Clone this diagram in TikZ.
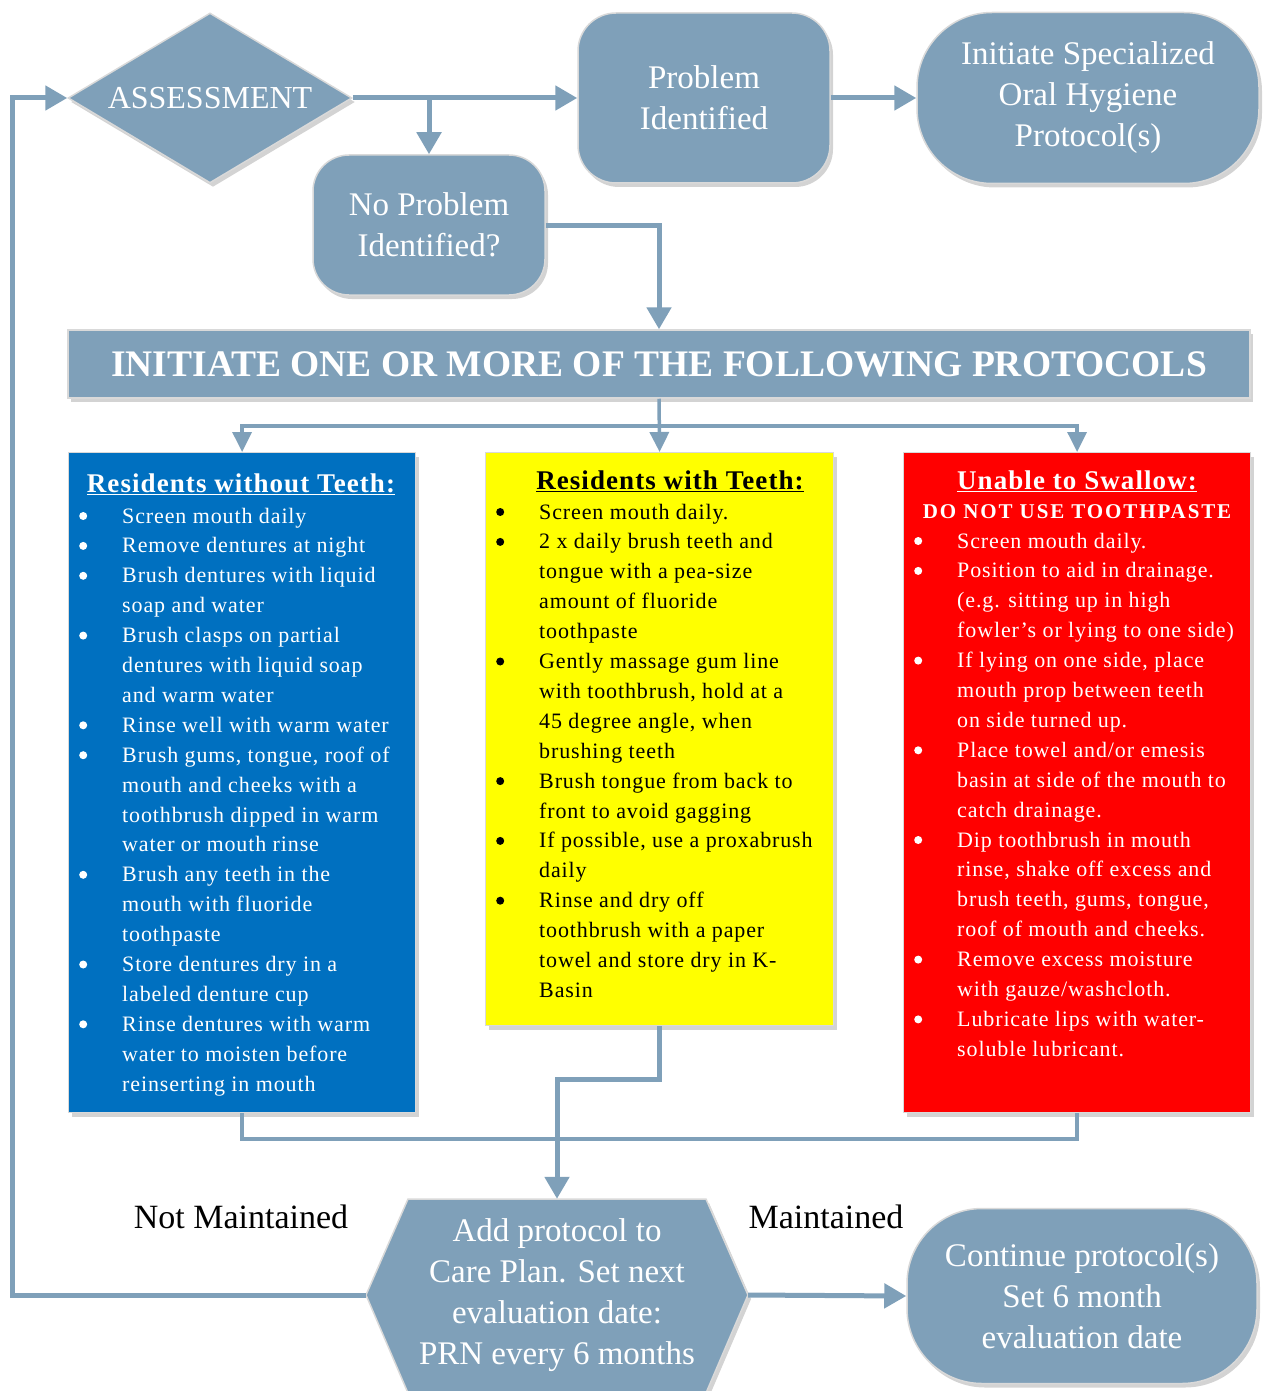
\documentclass[tikz,border=0pt]{standalone}
\usepackage{fontspec}
\setmainfont{Liberation Serif}
\newfontfamily\bodyfont[LetterSpace=4]{Liberation Serif}
\newfontfamily\widefont[LetterSpace=9]{Liberation Serif}
\usetikzlibrary{arrows.meta,shapes.geometric,shadows,calc}
\definecolor{sg}{RGB}{127,160,185}
\definecolor{bblue}{RGB}{0,112,192}
\definecolor{byellow}{RGB}{255,255,0}
\definecolor{bred}{RGB}{255,0,0}
\newcommand{\bulmark}[1]{\tikz[baseline=0pt]{\path[use as bounding box] (0pt,0pt) rectangle (8pt,8pt); \fill[#1] (4pt,7pt) circle[radius=4pt];}}
\newenvironment{blist}[1]{\begin{list}{\bulmark{#1}}{\setlength{\leftmargin}{43pt}\setlength{\labelwidth}{8pt}\setlength{\labelsep}{35pt}\setlength{\itemsep}{0pt}\setlength{\parsep}{0pt}\setlength{\topsep}{0pt}\setlength{\partopsep}{0pt}\setlength{\itemindent}{0pt}\setlength{\rightmargin}{0pt}}\raggedright}{\end{list}}
\begin{document}
\begin{tikzpicture}[x=1pt,y=-1pt,
  shad/.style={drop shadow={shadow xshift=3pt,shadow yshift=-4pt,opacity=0.35}},
  gshape/.style={shad,fill=sg,draw=black!15,line width=1.5pt,text=white,align=center,font=\fontsize{33}{41}\selectfont,inner sep=0pt},
  cbox/.style={shad,draw=black!15,line width=1.2pt,inner sep=0pt,anchor=north west},
  conn/.style={draw=sg,line width=5pt,-{Triangle[length=22pt,width=24pt]}},
  thinconn/.style={draw=sg,line width=3.5pt,-{Triangle[length=20pt,width=19pt]}},
  plainconn/.style={draw=sg,line width=3.5pt},
  head/.style={anchor=base,inner sep=0pt,font=\bodyfont\bfseries\fontsize{27}{30}\selectfont},
  body/.style={anchor=base west,inner sep=0pt,font=\bodyfont\fontsize{22}{29.9}\selectfont},
  lbl/.style={font=\fontsize{34}{40}\selectfont,inner sep=0pt}
]
\useasboundingbox (0,0) rectangle (1271,1391);

% top row
\node[gshape,diamond,aspect=1.67,minimum width=284pt,minimum height=170pt,font=\fontsize{32}{40}\selectfont] (assess) at (210,98) {ASSESSMENT};
\node[gshape,rectangle,rounded corners=38pt,minimum width=252pt,minimum height=170pt] (prob) at (704,98) {Problem\\Identified};
\node[gshape,rectangle,rounded corners=75pt,minimum width=342pt,minimum height=171pt] (init) at (1088,98) {Initiate Specialized\\Oral Hygiene\\Protocol(s)};
\node[gshape,rectangle,rounded corners=36pt,minimum width=232pt,minimum height=140pt] (noprob) at (429,225) {No Problem\\Identified?};

% banner
\node[gshape,rectangle,minimum width=1182pt,minimum height=68pt,font=\fontsize{37.5}{40}\selectfont\bfseries] (banner) at (659,364) {INITIATE ONE OR MORE OF THE FOLLOWING PROTOCOLS};

% coloured boxes
\node[cbox,fill=bblue,minimum width=347pt,minimum height=660pt] (blue) at (68,452) {};
\node[cbox,fill=byellow,minimum width=348pt,minimum height=573pt] (yellow) at (485,452) {};
\node[cbox,fill=bred,minimum width=347pt,minimum height=660pt] (red) at (903,452) {};

% blue content
\node[head,text=white] (bluehead) at (241,492) {\underline{Residents without Teeth:}};
\node[body,text=white] (bluelist) at (79,523) {\begin{minipage}[t]{345pt}\begin{blist}{white}
\item Screen mouth daily
\item Remove dentures at night
\item Brush dentures with liquid\\ soap and water
\item Brush clasps on partial\\ dentures with liquid soap\\ and warm water
\item Rinse well with warm water
\item Brush gums, tongue, roof of\\ mouth and cheeks with a\\ toothbrush dipped in warm\\ water or mouth rinse
\item Brush any teeth in the\\ mouth with fluoride\\ toothpaste
\item Store dentures dry in a\\ labeled denture cup
\item Rinse dentures with warm\\ water to moisten before\\ reinserting in mouth
\end{blist}\end{minipage}};

% yellow content
\node[head,text=black] (yellowhead) at (670,489) {\underline{Residents with Teeth:}};
\node[body,text=black] (yellowlist) at (496,519) {\begin{minipage}[t]{345pt}\begin{blist}{black}
\item Screen mouth daily.
\item 2 x daily brush teeth and\\ tongue with a pea-size\\ amount of fluoride\\ toothpaste
\item Gently massage gum line\\ with toothbrush, hold at a\\ 45 degree angle, when\\ brushing teeth
\item Brush tongue from back to\\ front to avoid gagging
\item If possible, use a proxabrush\\ daily
\item Rinse and dry off\\ toothbrush with a paper\\ towel and store dry in K-\\ Basin
\end{blist}\end{minipage}};

% red content
\node[head,text=white] (redhead) at (1077,489) {\underline{Unable to Swallow:}};
\node[anchor=base,inner sep=0pt,text=white,font=\widefont\bfseries\fontsize{21}{26}\selectfont] (redwarn) at (1077,518) {DO NOT USE TOOTHPASTE};
\node[body,text=white] (redlist) at (914,548) {\begin{minipage}[t]{345pt}\begin{blist}{white}
\item Screen mouth daily.
\item Position to aid in drainage.\\ (e.g. sitting up in high\\ fowler’s or lying to one side)
\item If lying on one side, place\\ mouth prop between teeth\\ on side turned up.
\item Place towel and/or emesis\\ basin at side of the mouth to\\ catch drainage.
\item Dip toothbrush in mouth\\ rinse, shake off excess and\\ brush teeth, gums, tongue,\\ roof of mouth and cheeks.
\item Remove excess moisture\\ with gauze/washcloth.
\item Lubricate lips with water-\\ soluble lubricant.
\end{blist}\end{minipage}};

% bottom row
\fill[sg,draw=black!15,line width=1.5pt,shad] (366,1295) -- (408,1199) -- (706,1199) -- (748,1295) -- (706,1393) -- (408,1393) -- cycle;
\node[text=white,align=center,font=\fontsize{33}{41}\selectfont,minimum width=382pt,minimum height=192pt,inner sep=0pt] (hex) at (557,1295) {Add protocol to\\Care Plan. Set next\\evaluation date:\\PRN every 6 months};
\node[gshape,rectangle,rounded corners=75pt,minimum width=350pt,minimum height=175pt] (cont) at (1082,1296) {Continue protocol(s)\\Set 6 month\\evaluation date};
\node[lbl] (notm) at (241,1217) {Not Maintained};
\node[lbl] (maint) at (826,1217) {Maintained};

% connectors
\draw[conn] (assess.east) -- (prob.west);
\draw[conn] (noprob.north |- assess.east) -- (noprob.north);
\draw[conn] (prob.east) -- (init.west);
\draw[conn] (noprob.east) -| (banner.north);
\draw[thinconn] (banner.south) -- (yellow.north);
\coordinate (split) at ($(banner.south)+(0,27)$);
\draw[thinconn] (split) -| (blue.north);
\draw[thinconn] (split) -| (red.north);
\draw[plainconn] (blue.south) -- ++(0,26) -| (red.south);
\draw[conn] (yellow.south) -- ++(0,53) -| (hex.north);
\draw[conn] (hex.east) -- (cont.west);
\draw[conn] (hex.west) -- ++(-353,0) |- (assess.west);
\end{tikzpicture}
\end{document}
